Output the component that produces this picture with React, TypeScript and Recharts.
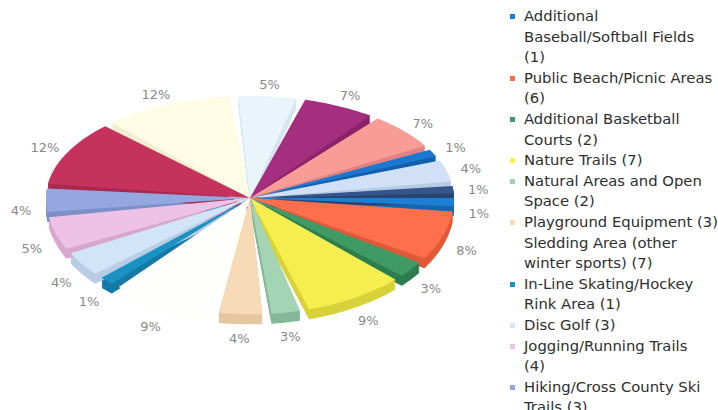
import React from 'react';
import { PieChart, Pie, Cell, Legend } from 'recharts';

const categories = [
  'Additional Baseball/Softball Fields',
  'Public Beach/Picnic Areas',
  'Additional Basketball Courts',
  'Nature Trails',
  'Natural Areas and Open Space',
  'Playground Equipment',
  'Sledding Area (other winter sports)',
  'In-Line Skating/Hockey Rink Area',
  'Disc Golf',
  'Jogging/Running Trails',
  'Hiking/Cross County Ski Trails',
  'Walking/Biking Paths',
  'Swimming Pool',
  'Dog Park',
  'Soccer Fields',
  'Splash Pad',
  'Tennis Courts',
  'Picnic Shelters',
  'Volleyball Courts',
];

const counts = [1, 6, 2, 7, 2, 3, 7, 1, 3, 4, 3, 9, 9, 4, 5, 5, 1, 3, 1];

const colors = [
  '#1c7fd6', '#ff6f4b', '#3f9a64', '#f4ee4e', '#a3d4b4', '#f6dab6', '#fefefc',
  '#1b92c4', '#d2e4f8', '#eec2e6', '#94a7e0', '#c6325e', '#fefce4', '#eaf5fb',
  '#a52f7f', '#f89c98', '#1b78d2', '#d0e1f7', '#35568a',
];

const sideColors = [
  '#1566b0', '#e05a38', '#2f7d4f', '#d8d23a', '#86b898', '#e4c6a0', '#fefefc',
  '#157aa6', '#b9cde4', '#d6a8ce', '#7d90c8', '#a82a4e', '#f0edd0', '#d6e6f0',
  '#8a246a', '#e0827e', '#1560ae', '#b8cbe6', '#2a4570',
];

// legend rows where the count drops onto its own line
const countOnNewLine = [9];

const data = categories.map((name, i) => ({ name: `${name} (${counts[i]})`, value: counts[i] }));

const CX = 250;
const CY = 198;
const R = 204;
const SQ_TOP = 0.5;
const SQ_BOTTOM = 0.57;
const DEPTH = 10;
const RAD = Math.PI / 180;

const ellipsePt = (cx: number, cy: number, r: number, a: number, dy: number) => {
  const s = Math.sin(-a * RAD);
  const sq = s > 0 ? SQ_BOTTOM : SQ_TOP;
  return [cx + r * Math.cos(-a * RAD), cy + dy + r * sq * s];
};

const slicePath = (cx: number, cy: number, r: number, a0: number, a1: number, dy: number) => {
  const steps = Math.max(2, Math.ceil(Math.abs(a0 - a1)));
  let d = `M${cx},${cy + dy}`;
  for (let k = 0; k <= steps; k += 1) {
    const a = a0 + ((a1 - a0) * k) / steps;
    const [x, y] = ellipsePt(cx, cy, r, a, dy);
    d += ` L${x.toFixed(2)},${y.toFixed(2)}`;
  }
  return `${d} Z`;
};

const SideShape = (props: any) => {
  const { cx, cy, outerRadius, startAngle, endAngle, fill } = props;
  const layers = [];
  for (let d = DEPTH; d > 0; d -= 1) {
    layers.push(<path key={d} d={slicePath(cx, cy, outerRadius, startAngle, endAngle, d)} fill={fill} />);
  }
  return <g>{layers}</g>;
};

const TopShape = (props: any) => {
  const { cx, cy, outerRadius, startAngle, endAngle, fill } = props;
  return <path d={slicePath(cx, cy, outerRadius, startAngle, endAngle, 0)} fill={fill} />;
};

const renderLabel = (props: any) => {
  const { cx, cy, midAngle, outerRadius, percent } = props;
  const r = outerRadius + 25;
  const s = Math.sin(-midAngle * RAD);
  const [x, y] = ellipsePt(cx, cy, r, midAngle, s > 0 ? DEPTH : 0);
  return (
    <text x={x} y={y + 5} textAnchor="middle" fill="#888" fontSize={13} fontFamily="DejaVu Sans">
      {`${Math.round(percent * 100)}%`}
    </text>
  );
};

const renderLegend = () => (
  <ul style={{ listStyle: 'none', margin: 0, padding: 0 }}>
    {data.map((d, i) => (
      <li
        key={d.name}
        style={{
          position: 'relative',
          paddingLeft: 17,
          fontSize: 14.8,
          lineHeight: '20.6px',
          color: '#2e2e2e',
          fontFamily: 'DejaVu Sans',
        }}
      >
        <span
          style={{ position: 'absolute', left: 3, top: 8, width: 5, height: 5, background: colors[i] }}
        />
        {countOnNewLine.includes(i) ? (
          <>
            {categories[i]}
            <br />({counts[i]})
          </>
        ) : (
          d.name
        )}
      </li>
    ))}
  </ul>
);

export default function App() {
  return (
    <div style={{ position: 'absolute', left: 0, top: 0, width: 718, height: 410, background: '#fff' }}>
      <PieChart width={718} height={410} margin={{ top: 0, right: 0, bottom: 0, left: 0 }}>
        <Pie
          data={data}
          dataKey="value"
          nameKey="name"
          cx={CX}
          cy={CY}
          outerRadius={R}
          startAngle={0}
          endAngle={-360}
          paddingAngle={2.6}
          stroke="none"
          legendType="none"
          shape={SideShape}
          isAnimationActive={false}
        >
          {data.map((d, i) => (
            <Cell key={d.name} fill={sideColors[i]} />
          ))}
        </Pie>
        <Pie
          data={data}
          dataKey="value"
          nameKey="name"
          cx={CX}
          cy={CY}
          outerRadius={R}
          startAngle={0}
          endAngle={-360}
          paddingAngle={2.6}
          stroke="none"
          shape={TopShape}
          label={renderLabel}
          labelLine={false}
          isAnimationActive={false}
        >
          {data.map((d, i) => (
            <Cell key={d.name} fill={colors[i]} />
          ))}
        </Pie>
        <Legend
          layout="vertical"
          align="right"
          verticalAlign="top"
          width={212}
          content={renderLegend}
          wrapperStyle={{ left: 507, top: 6, width: 211, height: 404, overflow: 'hidden' }}
        />
      </PieChart>
    </div>
  );
}
